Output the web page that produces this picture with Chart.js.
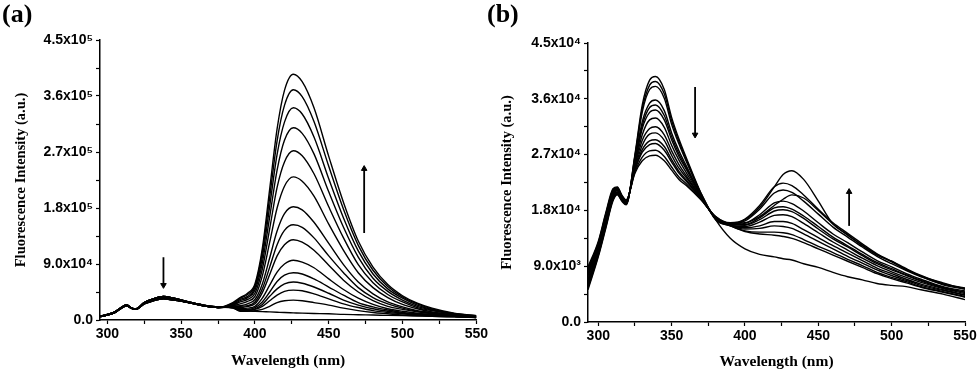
<!DOCTYPE html>
<html><head><meta charset="utf-8">
<script src="https://cdn.jsdelivr.net/npm/chart.js@4.4.1/dist/chart.umd.min.js"></script>
<style>
html,body{margin:0;padding:0;background:#fff;width:980px;height:376px;overflow:hidden}
.pan{position:absolute;top:0;width:490px;height:376px}
#wa{left:0}#wb{left:490px}
.lab{position:absolute;top:1px;font:bold 26px "Liberation Serif","Times New Roman",serif;color:#000;line-height:1}
</style></head><body>
<div class="pan" id="wa"><canvas id="ca" width="490" height="376"></canvas></div>
<div class="pan" id="wb"><canvas id="cb" width="490" height="376"></canvas></div>
<div class="lab" style="left:2px">(a)</div>
<div class="lab" style="left:487px">(b)</div>
<script>
// ---------- Panel (a): wavelength (nm) and intensity (x10^3 a.u.) ----------
const wlA = [295,300,305,310,313,316,319,325,330,338,345,355,365,375,385,390,395,400,405,410,415,420,426,432,440,450,460,470,480,490,500,510,520,535,550];
const a1  = [5,8,12,20,23,19,17,26,30,34,32,28,23,20,28, 36,43,58,115,211,307,369,395,383,341,263,189,127,85,57,39,27,19,11,7];
const a2  = [5,8,12,20,23,19,17,26,30,34,32,28,23,20,27, 35,41,55,109,198,288,345,370,359,319,247,178,120,80,54,37,26,18,10,7];
const a3  = [5,8,12,20,23,19,17,26,30,34,32,28,23,20,26, 33,38,52,101,183,266,318,341,331,294,227,164,111,74,50,35,24,17,10,7];
const a4  = [5,8,12,20,23,19,17,26,30,34,32,28,23,20,25, 31,36,48,92,166,241,289,309,300,267,206,149,101,67,46,32,22,16,9,6];
const a5  = [6,8,12,20,23,19,17,27,31,36,33,28,23,20,24, 29,33,43,82,147,213,254,272,264,235,182,132,89,60,41,29,20,15,9,6];
const a6  = [6,8,12,20,23,19,17,27,31,36,33,28,23,20,23, 26,30,38,71,125,180,215,230,223,199,154,112,76,52,36,25,18,13,8,6];
const a7  = [6,8,12,20,23,19,17,27,31,36,33,28,23,20,22, 23,26,33,58,100,143,171,182,177,157,123,89,61,42,29,21,15,12,8,5];
const a8  = [6,8,12,20,23,19,17,27,31,36,33,28,23,20,22, 22,23,29,50,85,121,144,153,149,132,103,76,52,36,26,19,14,11,7,5];
const a9  = [6,8,12,20,23,19,17,27,31,36,33,28,23,20,21, 20,22,26,44,73,103,121,129,125,112,88,64,45,31,22,17,13,10,7,5];
const a10 = [6,9,13,21,24,20,18,28,33,38,35,29,24,21,21, 18,19,22,35,56,77,90,96,93,84,66,49,35,25,18,14,11,9,6,5];
const a11 = [6,9,13,21,24,20,18,28,33,38,35,29,24,21,20, 17,17,20,29,45,62,72,76,74,66,53,40,28,21,16,12,10,8,6,4];
const a12 = [6,9,13,21,24,20,18,28,33,38,35,29,24,21,20, 16,16,18,25,38,50,58,61,59,53,43,32,24,18,14,11,9,7,6,4];
const a13 = [6,9,13,21,24,20,18,28,33,38,35,29,24,21,20, 15,15,17,22,31,40,46,48,47,42,34,26,20,15,12,10,8,7,6,4];
const a14 = [6,9,13,21,24,20,18,28,33,38,35,29,24,21,20, 14,14,15,17,22,28,31,32,31,28,24,19,15,12,10,8,7,6,5,4];
const a15 = [6,9,13,21,24,20,18,28,33,38,35,29,24,21,19, 15,14.5,14,13.5,13,12.5,12,11.5,11,10.5,10,9,8.5,8,7.5,7,6.5,6,5,4.5];
const seriesA = [a1,a2,a3,a4,a5,a6,a7,a8,a9,a10,a11,a12,a13,a14,a15];

// ---------- Panel (b): wavelength (nm) and intensity (x10^3 a.u.) ----------
const wlB = [293,300,305,310,313,316,319,325,330,335,339,345,350,355,360,370,380,390,400,410,420,426,432,440,450,460,470,480,490,500,510,520,535,550];
const b1  = [5.2,10.5,15.0,19.5,20.5,19.5,18.9,27,35,39,39.6,37.5,33,29.5,26.5,20.8,16.5, 13.5,11.8,10.9,10.5,10.2,10.0,9.4,8.8,8.0,7.3,6.8,6.2,5.9,5.7,5.2,4.5,3.6];
const b2  = [5.5,10.7,15.2,19.7,20.6,19.6,19.0,26.8,34.4,38.2,38.8,36.8,32.5,29.1,26.2,20.7,16.5, 15.5,14.6,14.2,14.0,13.8,13.5,12.8,11.8,10.8,9.8,8.8,7.8,7.0,6.3,5.6,4.8,4.0];
const b3  = [5.8,10.9,15.4,19.8,20.7,19.7,19.0,26.6,33.9,37.5,38.0,36.1,31.9,28.7,25.9,20.7,16.6, 15.5,14.7,14.5,14.5,14.4,14.1,13.3,12.2,11.2,10.1,9.1,8.0,7.2,6.5,5.7,4.9,4.1];
const b4  = [6.1,11.1,15.6,20.0,20.8,19.8,19.1,26.1,32.3,35.3,35.8,34.1,30.5,27.6,25.2,20.5,16.7, 15.6,15.0,15.1,15.5,15.4,15.1,14.2,13.0,11.8,10.6,9.5,8.4,7.5,6.7,5.9,5.1,4.3];
const b5  = [6.4,11.3,15.8,20.2,20.9,19.8,19.2,25.9,31.7,34.6,35.0,33.3,29.9,27.1,24.9,20.4,16.7, 15.6,15.2,15.5,16.2,16.2,15.9,14.9,13.6,12.3,11.1,9.9,8.7,7.8,6.9,6.1,5.2,4.4];
const b6  = [6.7,11.5,16.0,20.3,21.0,19.9,19.2,25.7,31.2,33.8,34.2,32.6,29.4,26.7,24.6,20.3,16.7, 15.6,15.4,16.1,17.2,17.3,17.0,15.9,14.4,12.9,11.6,10.3,9.1,8.1,7.2,6.4,5.4,4.6];
const b7  = [7.0,11.8,16.3,20.5,21.2,20.0,19.3,25.4,30.2,32.6,32.9,31.4,28.5,26.1,24.1,20.2,16.8, 15.7,15.6,16.5,17.9,18.1,17.8,16.7,15.0,13.4,12.1,10.7,9.4,8.4,7.5,6.6,5.5,4.8];
const b8  = [7.4,12.0,16.5,20.7,21.3,20.1,19.4,25.1,29.3,31.2,31.5,30.2,27.6,25.4,23.6,20.1,16.8, 15.7,15.7,16.8,18.4,18.6,18.2,17.1,15.4,13.7,12.3,10.9,9.6,8.6,7.6,6.7,5.6,4.8];
const b9  = [7.7,12.2,16.7,20.8,21.4,20.2,19.4,24.8,28.5,30.3,30.5,29.3,26.9,24.8,23.3,20.0,16.9, 15.7,15.9,17.3,19.2,19.5,19.1,17.9,16.0,14.2,12.8,11.3,9.9,8.9,7.8,6.9,5.7,5.0];
const b10 = [8.0,12.4,16.9,21.0,21.5,20.3,19.5,24.6,27.8,29.2,29.4,28.3,26.2,24.3,22.9,19.9,16.9, 15.8,16.3,18.2,20.8,21.3,20.9,19.5,17.4,15.3,13.7,12.1,10.6,9.4,8.3,7.3,6.0,5.3];
const b11 = [8.3,12.6,17.1,21.2,21.6,20.3,19.6,24.5,27.4,28.6,28.8,27.7,25.8,24.0,22.7,19.9,16.9, 15.8,16.6,18.8,21.8,22.4,22.0,20.5,18.2,16.0,14.3,12.6,11.0,9.8,8.6,7.5,6.2,5.5];
const b12 = [8.6,12.8,17.3,21.3,21.7,20.4,19.6,24.2,26.6,27.6,27.7,26.7,25.0,23.4,22.3,19.8,17.0, 15.9,16.0,17.0,18.8,19.8,20.5,20.0,18.0,15.8,14.0,12.4,10.9,9.7,8.5,7.4,6.1,5.4];
const b13 = [8.9,13.0,17.5,21.5,21.8,20.5,19.7,24,26,26.8,26.9,26,24.5,23,22,19.7,17, 16.0,16.5,18.5,21.8,23.8,24.4,23.0,19.5,15.8,14.1,12.3,10.8,9.8,8.4,7.4,6.3,5.3];
const seriesB = [b1,b2,b3,b4,b5,b6,b7,b8,b9,b10,b11,b12,b13];

// ---------- Ticks ----------
const xTickValues = [300,325,350,375,400,425,450,475,500,525,550];
const xTickLabels = ['300','','350','','400','','450','','500','','550'];
const yTickValuesA = [0,45,90,135,180,225,270,315,360,405,450];
const yTickLabelsA = ['0.0','','9.0x10\u2074','','1.8x10\u2075','','2.7x10\u2075','','3.6x10\u2075','','4.5x10\u2075'];
const yTickValuesB = [0,4.5,9,13.5,18,22.5,27,31.5,36,40.5,45];
const yTickLabelsB = ['0.0','','9.0x10\u00B3','','1.8x10\u2074','','2.7x10\u2074','','3.6x10\u2074','','4.5x10\u2074'];

// ---------- Arrows (x in nm, from/to in x10^3) ----------
const arrowAx = [338, 474], arrowAfrom = [101, 140], arrowAto = [56, 243];
const arrowBx = [366, 471], arrowBfrom = [37.9, 15.5], arrowBto = [30.2, 21.0];

const tickFont = {family:'"Liberation Sans", Arial, sans-serif', weight:'bold', size:14};
const titleFont = {family:'"Liberation Serif", "Times New Roman", serif', weight:'bold'};

function build(canvasId, wl, series, xMin, yMax, yTV, yTL, ax, afrom, ato, geo) {
  const datasets = series.map(s => ({
    data: wl.map((x, i) => ({x: x, y: s[i]})),
    borderColor: '#000', borderWidth: 1.4, pointRadius: 0,
    cubicInterpolationMode: 'monotone', fill: false
  }));
  ax.forEach((x, i) => {
    const up = ato[i] > afrom[i];
    datasets.push({
      data: [{x: x, y: afrom[i]}, {x: x, y: ato[i]}],
      borderColor: '#000', borderWidth: 1.8, backgroundColor: '#000',
      pointRadius: [0, 3.2], pointStyle: 'triangle', pointRotation: up ? 0 : 180,
      pointBorderWidth: 1, pointBorderColor: '#000'
    });
  });
  return new Chart(document.getElementById(canvasId), {
    type: 'line',
    data: {datasets},
    options: {
      responsive: false, animation: false, devicePixelRatio: 1,
      layout: {padding: {top: geo.top, right: geo.right, bottom: 0, left: 0}},
      plugins: {legend: {display: false}, tooltip: {enabled: false}},
      scales: {
        x: {
          type: 'linear', min: xMin, max: 550,
          afterBuildTicks: s => { s.ticks = xTickValues.map(v => ({value: v})); },
          afterFit: s => { s.height = geo.xh; },
          ticks: {autoSkip: false, maxRotation: 0, padding: 2, color: '#000', font: tickFont,
                  callback: (v, i) => xTickLabels[i]},
          grid: {drawOnChartArea: false, drawTicks: true, tickLength: 4, tickColor: '#000', tickWidth: 1.2},
          border: {display: true, color: '#000', width: 1.5},
          title: {display: true, text: 'Wavelength (nm)', color: '#000',
                  font: Object.assign({size: 15.5}, titleFont), padding: {top: 0, bottom: geo.xtp}}
        },
        y: {
          type: 'linear', min: 0, max: yMax,
          afterBuildTicks: s => { s.ticks = yTV.map(v => ({value: v})); },
          afterFit: s => { s.width = geo.yw; },
          ticks: {autoSkip: false, padding: 3, color: '#000', font: tickFont,
                  callback: (v, i) => yTL[i]},
          grid: {drawOnChartArea: false, drawTicks: true, tickLength: 4, tickColor: '#000', tickWidth: 1.2},
          border: {display: true, color: '#000', width: 1.5},
          title: {display: true, text: 'Fluorescence Intensity (a.u.)', color: '#000',
                  font: Object.assign({size: 14.5}, titleFont), padding: {top: geo.ytp, bottom: 0}}
        }
      }
    }
  });
}

build('ca', wlA, seriesA, 295, 450, yTickValuesA, yTickLabelsA, arrowAx, arrowAfrom, arrowAto,
      {top: 40, right: 12, xh: 56, yw: 100, xtp: 6, ytp: 12.5});
build('cb', wlB, seriesB, 293, 45, yTickValuesB, yTickLabelsB, arrowBx, arrowBfrom, arrowBto,
      {top: 43, right: 15, xh: 54, yw: 98, xtp: 5, ytp: 9});
</script>
</body></html>
